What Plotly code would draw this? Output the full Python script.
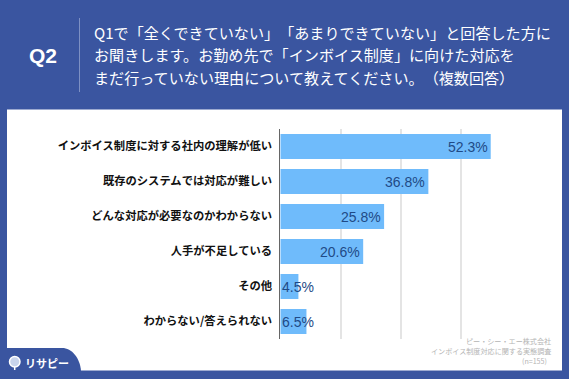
import plotly.graph_objects as go

categories = ["インボイス制度に対する社内の理解が低い", "既存のシステムでは対応が難しい", "どんな対応が必要なのかわからない",
              "人手が不足している", "その他", "わからない/答えられない"]
values = [52.3, 36.8, 25.8, 20.6, 4.5, 6.5]
tick_values = [0, 15, 30, 45, 60]
question_lines = ["Q1で「全くできていない」\u200b「あまりできていない」と回答した方に",
                  "お聞きします。お勤め先で「インボイス制度」に向けた対応を",
                  "まだ行っていない理由について教えてください。\u200b（複数回答）"]
footer_lines = ["ピー・シー・エー株式会社", "インボイス制度対応に関する実態調査", "(n=155)"]

W, H = 569, 379
JP = "Noto Sans CJK JP"
LAT = "Liberation Sans"
BLUE = "#3a55a0"
def px(x): return x / W
def py(y): return 1 - y / H

fig = go.Figure(go.Bar(y=categories, x=values, orientation="h", marker=dict(color="#6fbbfb", line=dict(width=0)),
                       hoverinfo="skip"))

ann = []
for c, v in zip(categories, values):
    small = v < 10
    ann.append(dict(x=0 if small else v, y=c, xref="x", yref="y", text=f"{v:.1f}%", showarrow=False,
                    xanchor="left" if small else "right", yanchor="middle", xshift=0 if small else -1,
                    font=dict(family=LAT, size=14, color="#1f4a86")))
ann.append(dict(x=px(43), y=py(56), xref="paper", yref="paper", text="Q2", showarrow=False,
                xanchor="center", yanchor="middle", font=dict(family=LAT, size=21, color="white", weight=700)))
for line, y in zip(question_lines, [31.5, 54.5, 77]):
    ann.append(dict(x=px(92), y=py(y), xref="paper", yref="paper", text=line, showarrow=False, xanchor="left",
                    yanchor="middle", font=dict(family=JP, size=15.1, color="white")))
for line, y, xr in zip(footer_lines, [340.5, 351, 361], [553, 553, 549]):
    ann.append(dict(x=px(xr), y=py(y), xref="paper", yref="paper", text=line, showarrow=False, xanchor="right",
                    yanchor="middle", font=dict(family=JP, size=7.1, color="#b4b4b4")))
ann.append(dict(x=px(23), y=py(363), xref="paper", yref="paper", text="リサピー", showarrow=False, xanchor="left",
                yanchor="middle", font=dict(family=JP, size=11, color="white", weight=700)))

panel = f"M{px(7)},{py(109.5)} L{px(562)},{py(109.5)} L{px(562)},{py(370.5)} L{px(7)},{py(370.5)} Z"
tab = (f"M{px(7)},{py(348)} L{px(62)},{py(348)} C{px(72)},{py(348)} {px(80)},{py(358)} {px(81)},{py(371)} "
       f"L{px(7)},{py(371)} Z")
shapes = [
    dict(type="path", path=panel, xref="paper", yref="paper", fillcolor="white", line=dict(width=0), layer="below"),
    dict(type="path", path=tab, xref="paper", yref="paper", fillcolor=BLUE, line=dict(width=0), layer="below"),
    dict(type="line", x0=px(79.5), x1=px(79.5), y0=py(18), y1=py(92), xref="paper", yref="paper",
         line=dict(color="#7d90c4", width=1)),
    dict(type="circle", x0=px(9.5), x1=px(20), y0=py(367), y1=py(356.5), xref="paper", yref="paper",
         fillcolor="#c8d4ec", line=dict(color="white", width=1.5)),
    dict(type="line", x0=px(14.7), x1=px(14.7), y0=py(367), y1=py(370), xref="paper", yref="paper",
         line=dict(color="white", width=1.5)),
]

fig.update_layout(
    width=W, height=H, margin=dict(l=0, r=0, t=0, b=0), paper_bgcolor=BLUE, plot_bgcolor="rgba(0,0,0,0)",
    bargap=0.28, showlegend=False, annotations=ann, shapes=shapes,
    xaxis=dict(domain=[px(280.3), px(521.7)], range=[0, 60], tickvals=tick_values, showticklabels=False,
               showgrid=True, gridcolor="#e4e4e4", gridwidth=1.5, zeroline=False, showline=False, ticks=""),
    yaxis=dict(domain=[py(339), py(129)], autorange="reversed", type="category", showgrid=False, zeroline=False,
               showline=True, linecolor="#666666", linewidth=1, ticks="", ticklabelstandoff=5,
               tickfont=dict(family=JP, size=11.3, color="#111111", weight=700)),
)
fig.write_html("out.html", config=dict(displayModeBar=False),
               post_script="document.body.style.margin='0';document.documentElement.style.overflow='hidden';")
